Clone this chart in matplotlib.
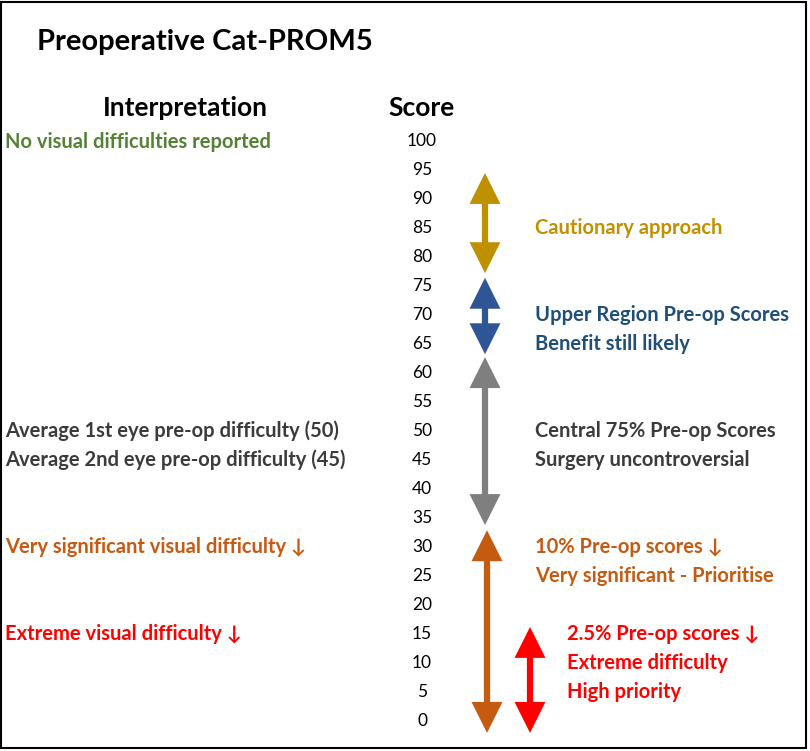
import matplotlib
matplotlib.use("Agg")
import matplotlib.pyplot as plt
from matplotlib.patches import FancyArrowPatch, ArrowStyle, Rectangle

plt.rcParams['font.family'] = ['Lato', 'DejaVu Sans']

# score scale
scores = list(range(100, -1, -5))

# left column: interpretation text at score
left_labels = ["No visual difficulties reported",
               "Average 1st eye pre-op difficulty (50)",
               "Average 2nd eye pre-op difficulty (45)",
               "Very significant visual difficulty \u2193",
               "Extreme visual difficulty \u2193"]
left_scores = [100, 50, 45, 30, 15]
left_colors = ["#548235", "#3b3b3b", "#3b3b3b", "#c55a11", "#ff0000"]

# right column: band notes
right_labels = ["Cautionary approach",
                "Upper Region Pre-op Scores", "Benefit still likely",
                "Central 75% Pre-op Scores", "Surgery uncontroversial",
                "10% Pre-op scores \u2193", "Very significant - Prioritise",
                "2.5% Pre-op scores \u2193", "Extreme difficulty", "High priority"]
right_scores = [85, 70, 65, 50, 45, 30, 25, 15, 10, 5]
right_colors = ["#bf9000", "#1f4e79", "#1f4e79", "#3b3b3b", "#3b3b3b",
                "#c55a11", "#c55a11", "#ff0000", "#ff0000", "#ff0000"]
right_x = [535, 535, 535, 535, 535, 535, 535, 567, 567, 567]

# band arrows (score ranges)
arrow_top = [94.3, 76.2, 62.5, 32.6, 15.9]
arrow_bottom = [77.0, 63.0, 33.5, -2.4, -2.4]
arrow_colors = ["#bf9000", "#2f5597", "#7f7f7f", "#c55a11", "#ff0000"]
arrow_x = [485, 485, 485, 487, 530]

# pixel mapping: 100 -> y 140px, 0 -> y 719px
px_per_pt = (719 - 140) / 100.0
y_top = 100 + 140 / px_per_pt
y_bot = 100 - (751 - 140) / px_per_pt
dy = 1.5 / px_per_pt  # nudge text down a touch

fig = plt.figure(figsize=(8.1, 7.51), dpi=100)
ax = fig.add_axes([0, 0, 1, 1])
ax.set_xlim(0, 810)
ax.set_ylim(y_bot, y_top)
ax.axis('off')

ax.text(37, 100 + 100 / px_per_pt - dy, "Preoperative Cat-PROM5", fontsize=21,
        fontweight='bold', ha='left', va='center')
ax.text(185, 100 + 33 / px_per_pt - dy, "Interpretation", fontsize=19,
        fontweight='bold', ha='center', va='center')
ax.text(422, 100 + 33 / px_per_pt - dy, "Score", fontsize=19,
        fontweight='bold', ha='center', va='center')

for s in scores:
    ax.text(422, s - dy, str(s), fontsize=12.5, ha='center', va='center')

for lab, s, c in zip(left_labels, left_scores, left_colors):
    ax.text(5, s - dy, lab, fontsize=14.5, fontweight='bold', color=c,
            ha='left', va='center')

for lab, s, c, x in zip(right_labels, right_scores, right_colors, right_x):
    ax.text(x, s - dy, lab, fontsize=14.5, fontweight='bold', color=c,
            ha='left', va='center')

for t, b, c, x in zip(arrow_top, arrow_bottom, arrow_colors, arrow_x):
    style = ArrowStyle('<|-|>', head_length=15, head_width=7.5)
    arr = FancyArrowPatch((x, b), (x, t), arrowstyle=style, mutation_scale=1,
                          color=c, lw=4.5, shrinkA=0, shrinkB=0,
                          joinstyle='miter', capstyle='butt')
    ax.add_patch(arr)

fig.patches.append(Rectangle((1 / 810, 3 / 751), 805 / 810, 746 / 751,
                             transform=fig.transFigure, fill=False,
                             edgecolor='black', lw=1.5))

fig.savefig("out.png", dpi=100)
